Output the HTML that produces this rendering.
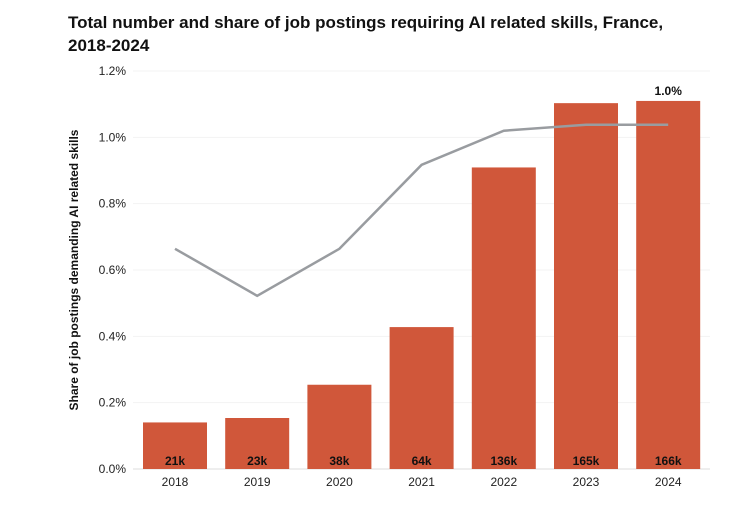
<!DOCTYPE html>
<html><head><meta charset="utf-8"><style>
body{margin:0;background:#fff;font-family:"Liberation Sans",Arial,sans-serif}
svg{display:block}
</style></head><body>
<svg width="755" height="507" font-family="Liberation Sans, Arial, sans-serif">
<text x="68" y="28" font-size="17" font-weight="bold" fill="#111">Total number and share of job postings requiring AI related skills, France,</text>
<text x="68" y="51" font-size="17" font-weight="bold" fill="#111">2018-2024</text>
<text transform="translate(78,270) rotate(-90)" text-anchor="middle" font-size="12" font-weight="bold" fill="#111">Share of job postings demanding AI related skills</text>
<g id="grid"></g><g id="bars"></g><g id="line"></g><g id="labels"></g>
</svg>
<script>
const years=["2018","2019","2020","2021","2022","2023","2024"];
const counts=[21,23,38,64,136,165,166];
const countLabels=["21k","23k","38k","64k","136k","165k","166k"];
const shares=[0.664,0.522,0.664,0.917,1.02,1.038,1.038];
const yTicks=[0,0.2,0.4,0.6,0.8,1.0,1.2];
const yTickLabels=["0.0%","0.2%","0.4%","0.6%","0.8%","1.0%","1.2%"];
const NS="http://www.w3.org/2000/svg";
const x0=133,x1=710,yB=469,yT=71;
const y=v=>yB-(v/1.2)*(yB-yT);
const countMax=179.5;
const yc=c=>yB-(c/countMax)*(yB-yT);
const step=82.2,bw=64;
const xc=i=>175+i*step;
function mk(t,a,p){const e=document.createElementNS(NS,t);for(const k in a)e.setAttribute(k,a[k]);p.appendChild(e);return e;}
const g=document.getElementById('grid'),b=document.getElementById('bars'),l=document.getElementById('line'),lb=document.getElementById('labels');
yTicks.forEach((v,i)=>{
 const ln=mk('line',{x1:x0,x2:x1,y1:y(v),y2:y(v),stroke:i==0?'#ddd':'#f3f3f3','stroke-width':1},g);
 
 
 const t=mk('text',{x:126,y:y(v)+4,'text-anchor':'end','font-size':12,fill:'#222'},g);
 t.textContent=yTickLabels[i];
 
 
});
years.forEach((yr,i)=>{
 const r=mk('rect',{x:xc(i)-bw/2,y:yc(counts[i]),width:bw,height:yB-yc(counts[i]),fill:'#d0573a'},b);
 
 
 const t=mk('text',{x:xc(i),y:465,'text-anchor':'middle','font-size':12,'font-weight':'bold',fill:'#111'},lb);
 t.textContent=countLabels[i];
 
 
 const xt=mk('text',{x:xc(i),y:486,'text-anchor':'middle','font-size':12,fill:'#222'},lb);
 xt.textContent=yr;
 
 
});
const p=mk('polyline',{points:shares.map((s,i)=>xc(i)+','+y(s)).join(' '),fill:'none',stroke:'#999ca0','stroke-width':2.5},l);


const last=shares.length-1;
const lt=mk('text',{x:xc(last),y:yc(counts[last])-6,'text-anchor':'middle','font-size':12,'font-weight':'bold',fill:'#111'},lb);
lt.textContent=shares[last].toFixed(1)+'%';


</script>
</body></html>
